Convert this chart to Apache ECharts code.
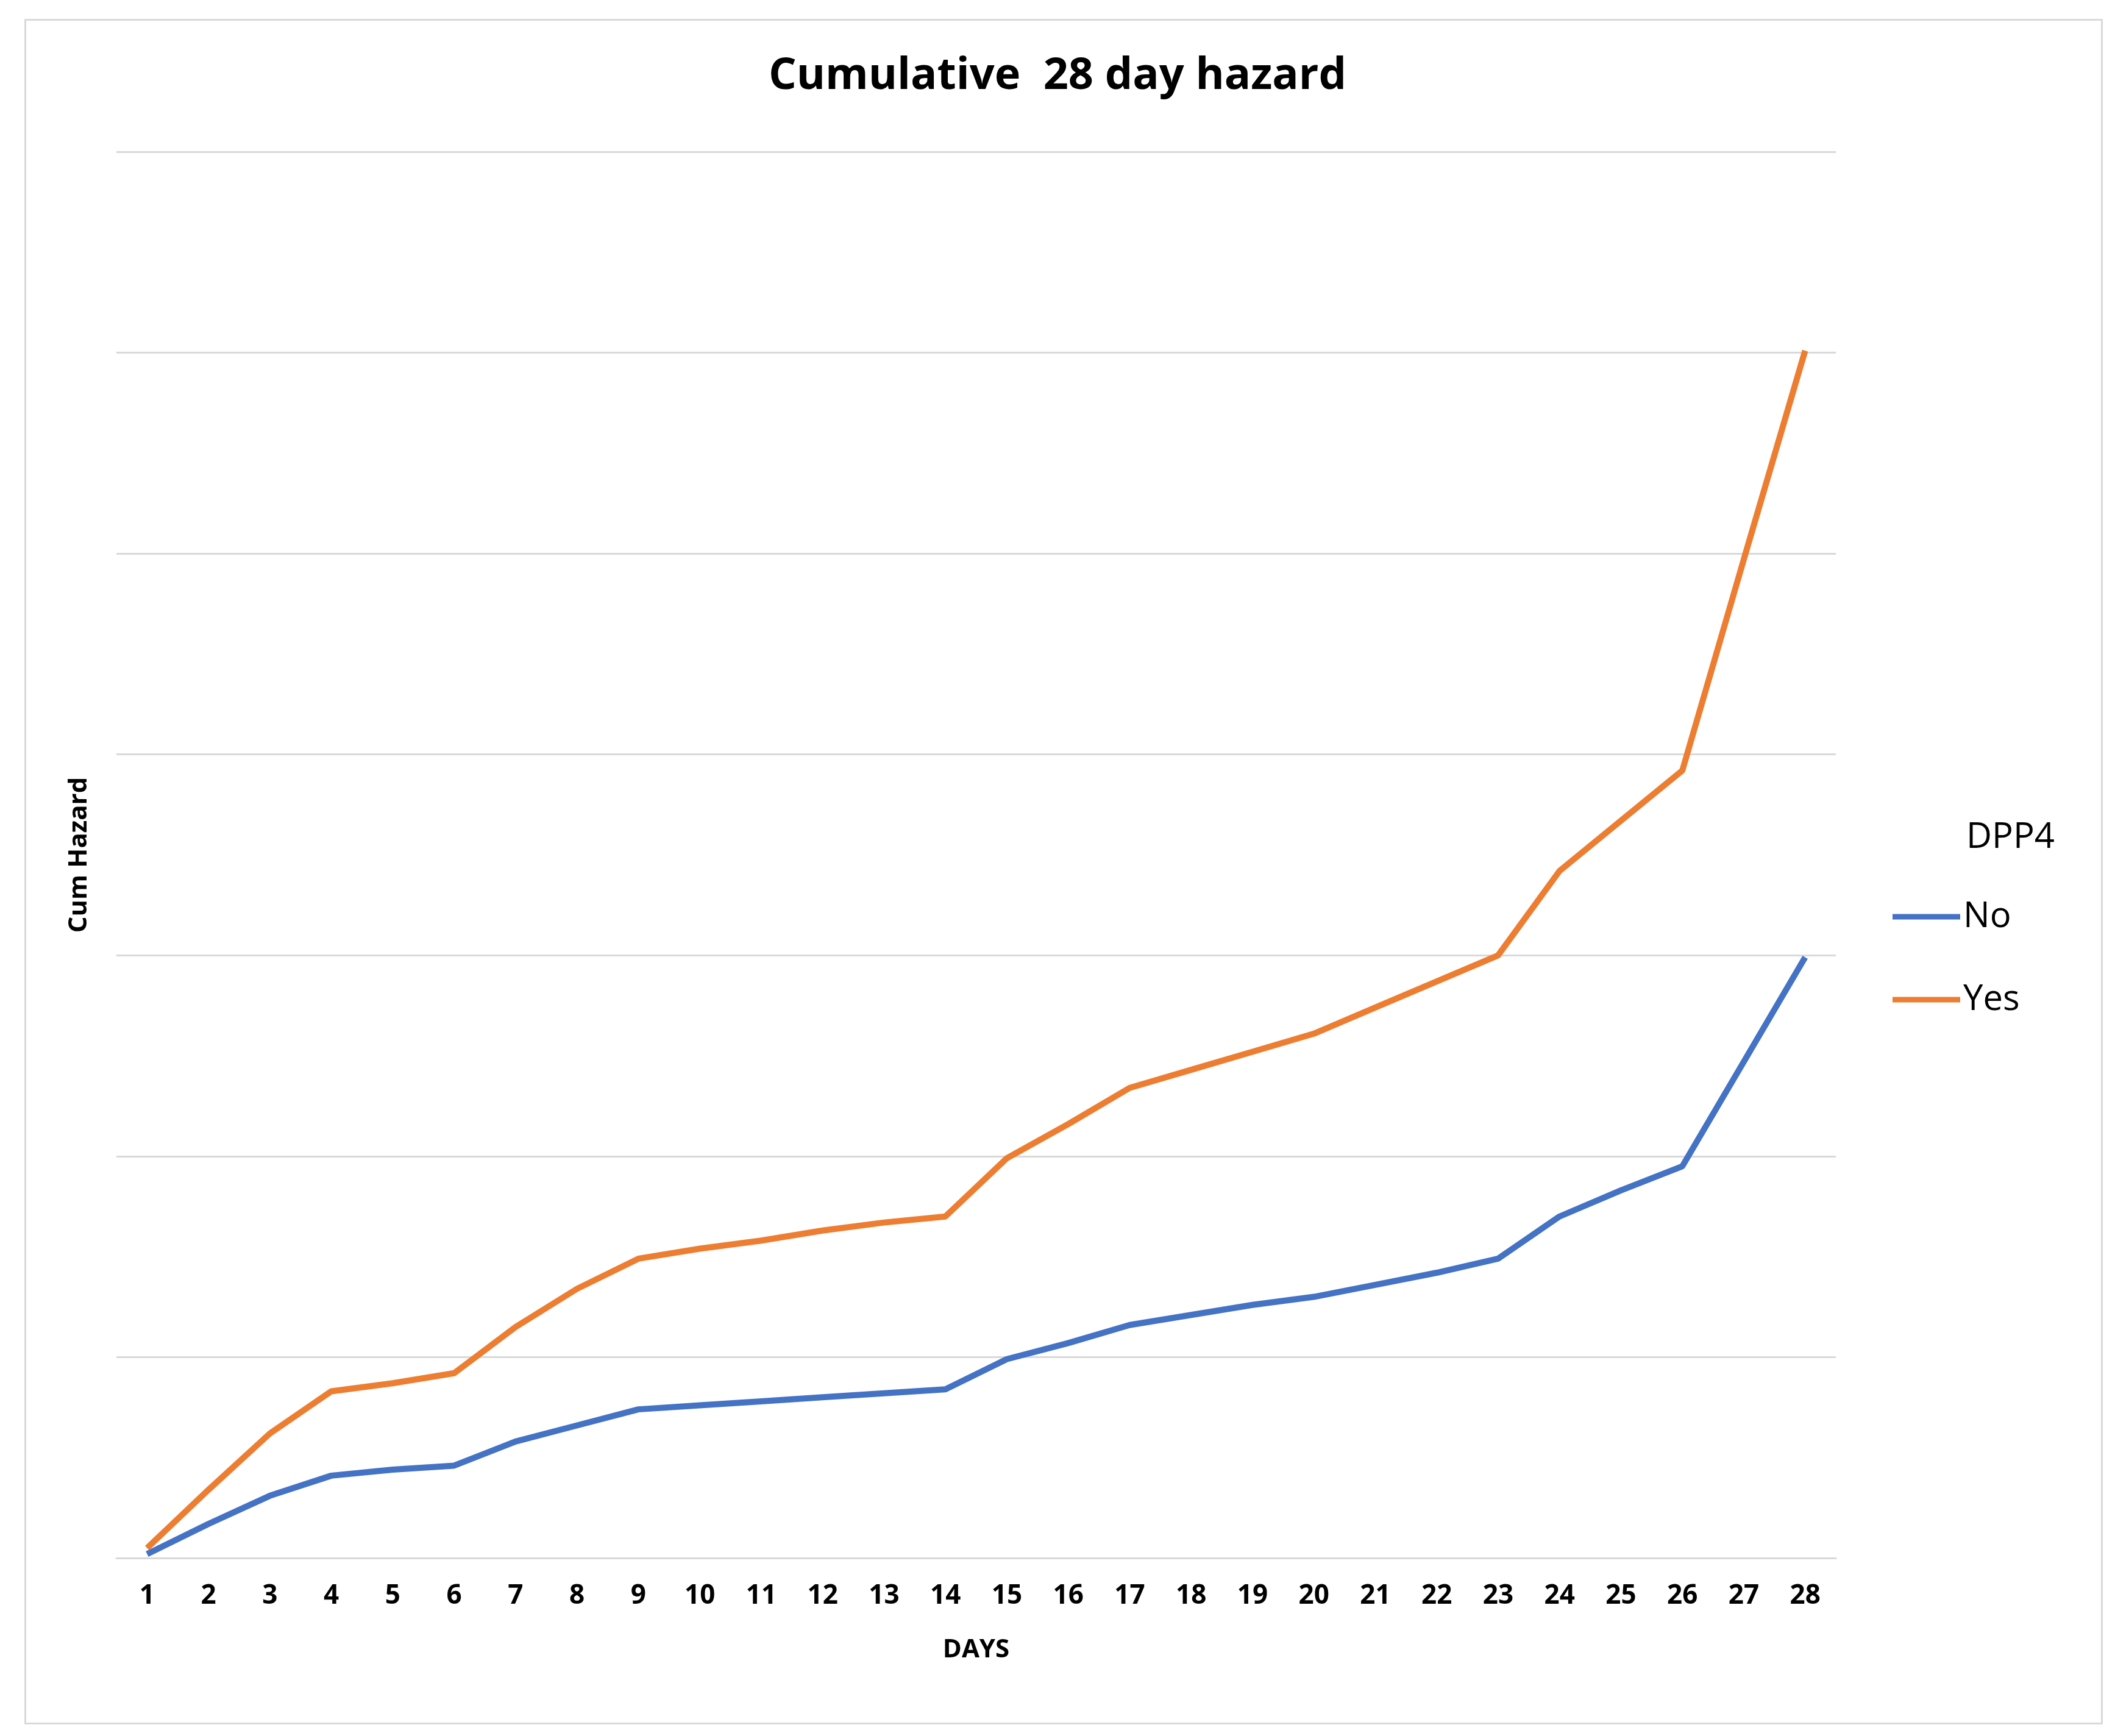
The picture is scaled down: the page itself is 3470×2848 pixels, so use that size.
<!DOCTYPE html>
<html>
<head>
<meta charset="UTF-8">
<title>Cumulative 28 day hazard</title>
<script src="https://cdn.jsdelivr.net/npm/echarts@6/dist/echarts.min.js"></script>
<style>
  html, body { margin: 0; background: #fff; }
  #frame { position: absolute; left: 40px; top: 31px; width: 3410px; height: 2798px; border: 3px solid #d9d9d9; box-sizing: border-box; }
  #main { width: 3470px; height: 2848px; }
</style>
</head>
<body>
<div id="frame"></div>
<div id="main"></div>
<script>
// days on x axis
var days = [];
for (var d = 1; d <= 28; d++) days.push(String(d));

// in gridline units
var noValues = [0.02, 0.17, 0.31, 0.41, 0.44, 0.46, 0.58, 0.66, 0.74, 0.76, 0.78, 0.80, 0.82, 0.84,
                0.99, 1.07, 1.16, 1.21, 1.26, 1.30, 1.36, 1.42, 1.49, 1.70, 1.83, 1.95, 2.47, 2.99];
var yesValues = [0.05, 0.34, 0.62, 0.83, 0.87, 0.92, 1.15, 1.34, 1.49, 1.54, 1.58, 1.63, 1.67, 1.70,
                 1.99, 2.16, 2.34, 2.43, 2.52, 2.61, 2.74, 2.87, 3.00, 3.42, 3.67, 3.92, 4.97, 6.01];

var font = 'Open Sans';
var myChart = echarts.init(document.getElementById('main'));
var option = {
    backgroundColor: 'transparent',
    animation: false,
    title: {
        text: 'Cumulative  28 day hazard',
        left: 'center', top: 84,
        textStyle: { fontFamily: font, fontSize: 72, fontWeight: 'bold', color: '#000' }
    },
    legend: {
        orient: 'vertical',
        left: 3100, top: 1470,
        itemWidth: 111, itemHeight: 9, itemGap: 78,
        icon: 'rect',
        data: ['No', 'Yes'],
        textStyle: { fontFamily: font, fontSize: 58, color: '#000', padding: [0, 0, 0, 0] }
    },
    graphic: [{
        type: 'text', left: 3226, top: 1345,
        style: { text: 'DPP4', fontFamily: font, fontSize: 58, fill: '#000' }
    }],
    grid: { left: 191, right: 458, top: 249, bottom: 292 },
    xAxis: {
        type: 'category',
        data: days,
        boundaryGap: true,
        name: 'DAYS', nameLocation: 'middle', nameGap: 130,
        nameTextStyle: { fontFamily: font, fontSize: 42, fontWeight: 'bold', color: '#000' },
        axisLine: { lineStyle: { color: '#d9d9d9', width: 3 } },
        axisTick: { show: false },
        axisLabel: { fontFamily: font, fontSize: 44, fontWeight: 'bold', color: '#000', margin: 40, interval: 0 }
    },
    yAxis: {
        type: 'value', min: 0, max: 7, interval: 1,
        name: 'Cum Hazard', nameLocation: 'middle', nameGap: 40,
        nameTextStyle: { fontFamily: font, fontSize: 42, fontWeight: 'bold', color: '#000' },
        axisLabel: { show: false },
        axisLine: { show: false },
        axisTick: { show: false },
        splitLine: { lineStyle: { color: '#d9d9d9', width: 3 } }
    },
    series: [
        { name: 'No', type: 'line', data: noValues, showSymbol: false, color: '#4472c4',
          lineStyle: { width: 10 } },
        { name: 'Yes', type: 'line', data: yesValues, showSymbol: false, color: '#ed7d31',
          lineStyle: { width: 10 } }
    ]
};
myChart.setOption(option);
</script>
</body>
</html>
